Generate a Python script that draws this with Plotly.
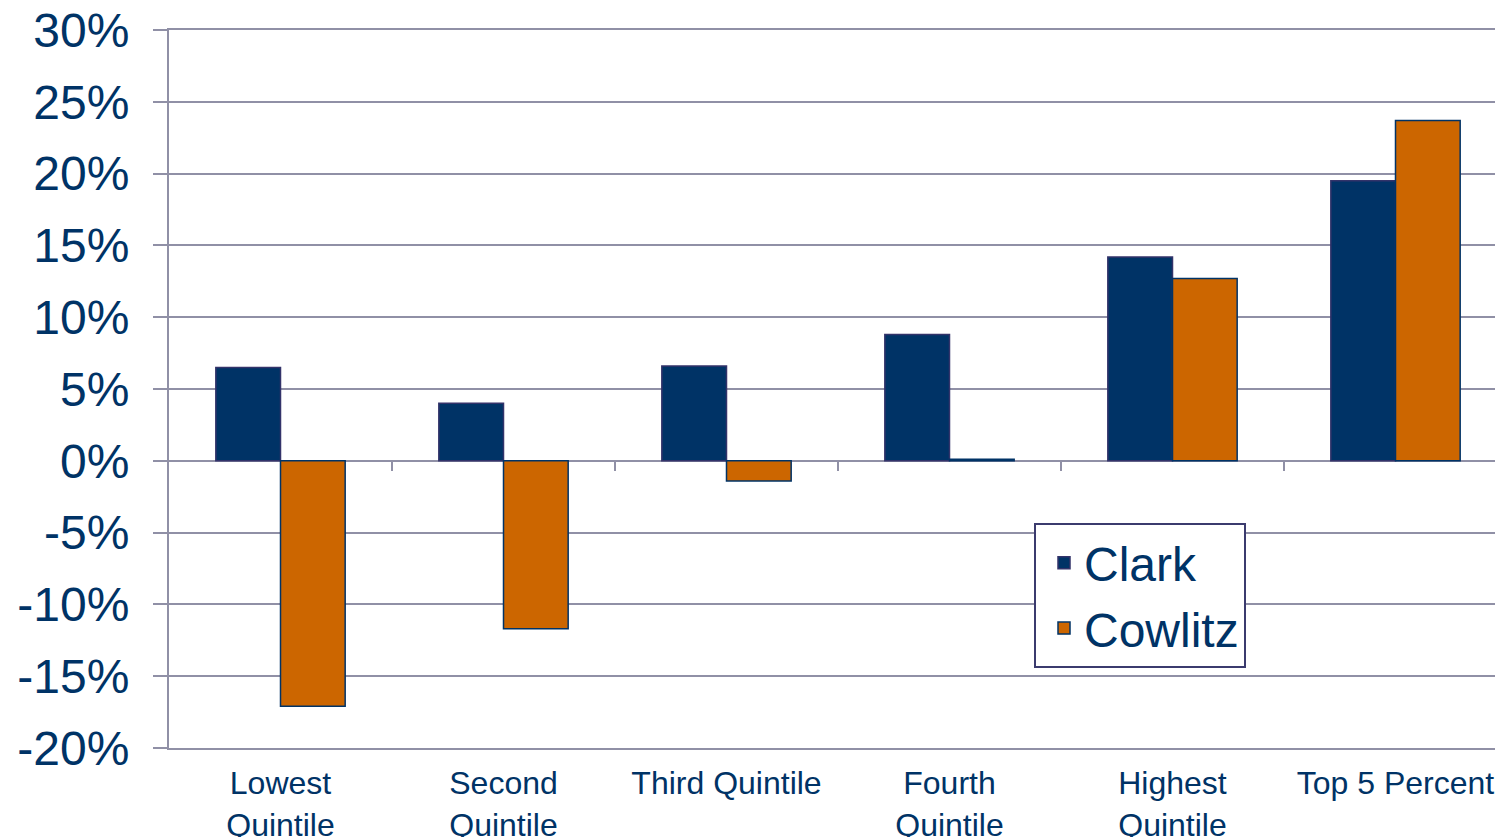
import plotly.graph_objects as go

categories = ["Lowest<br>Quintile", "Second<br>Quintile", "Third Quintile",
              "Fourth<br>Quintile", "Highest<br>Quintile", "Top 5 Percent"]
clark = [6.5, 4.0, 6.6, 8.8, 14.2, 19.5]
cowlitz = [-17.1, -11.7, -1.4, 0.1, 12.7, 23.7]
y_ticks = [-20, -15, -10, -5, 0, 5, 10, 15, 20, 25, 30]
y_labels = [f"{v}%" for v in y_ticks]

navy = "#003366"
orange = "#CC6600"
grid = "#9090a6"
font_family = "Liberation Sans, Arial, sans-serif"

# page body offset compensation
OFF = 7
W, H = 1503 - OFF, 837 - OFF
left, top = 168 - OFF, 29 - OFF
plot_bottom = 747 - OFF
bottom = H - plot_bottom
plot_w = W - left
plot_h = plot_bottom - top
cat_px = 223.0
n = len(categories)
x_range = [-0.5, -0.5 + plot_w / cat_px]
boundaries = [i + 0.5 for i in range(n - 1)]

fig = go.Figure()
fig.add_trace(go.Bar(name="Clark", x=list(range(n)), y=clark,
                     marker=dict(color=navy, line=dict(color="#33336a", width=1.5))))
fig.add_trace(go.Bar(name="Cowlitz", x=list(range(n)), y=cowlitz,
                     marker=dict(color=orange, line=dict(color=navy, width=1.5))))

fig.update_layout(
    width=W, height=H,
    margin=dict(l=left, r=0, t=top, b=bottom, pad=0, autoexpand=False),
    paper_bgcolor="white", plot_bgcolor="white",
    barmode="group", bargap=0.42, bargroupgap=0,
    font=dict(family=font_family, color=navy),
    xaxis=dict(
        type="linear", range=x_range, tickmode="array",
        tickvals=list(range(n)), ticktext=categories,
        showgrid=False, zeroline=False, automargin=False,
        showline=True, mirror=True, linecolor=grid, linewidth=2,
        ticks="", ticklabelstandoff=6, ticklabeloverflow="allow",
        tickfont=dict(size=32, color=navy),
    ),
    xaxis2=dict(
        type="linear", range=x_range, overlaying="x", anchor="free",
        position=(0 - y_ticks[0]) / (y_ticks[-1] - y_ticks[0]), side="bottom",
        tickmode="array", tickvals=boundaries, showticklabels=False,
        ticks="outside", ticklen=9, tickwidth=2, tickcolor=grid,
        showgrid=False, zeroline=False, showline=False, automargin=False,
    ),
    yaxis=dict(
        range=[y_ticks[0], y_ticks[-1]], tickmode="array",
        tickvals=y_ticks, ticktext=y_labels, automargin=False,
        showgrid=True, gridcolor=grid, gridwidth=2,
        zeroline=True, zerolinecolor=grid, zerolinewidth=2,
        showline=True, linecolor=grid, linewidth=2,
        ticks="outside", ticklen=14, tickwidth=2, tickcolor=grid,
        tickfont=dict(size=48, color=navy),
        ticklabelstandoff=14, ticklabeloverflow="allow",
    ),
    legend=dict(
        x=(1033 - 168) / plot_w, y=(747 - 522) / plot_h,
        xanchor="left", yanchor="top", indentation=8,
        bordercolor="#3b3b6e", borderwidth=2, bgcolor="white",
        font=dict(size=48, color=navy),
    ),
    showlegend=True,
)
# dummy trace so xaxis2 is rendered
fig.add_trace(go.Scatter(x=[None], y=[None], xaxis="x2", showlegend=False, hoverinfo="skip"))

fig.write_html("out.html")
